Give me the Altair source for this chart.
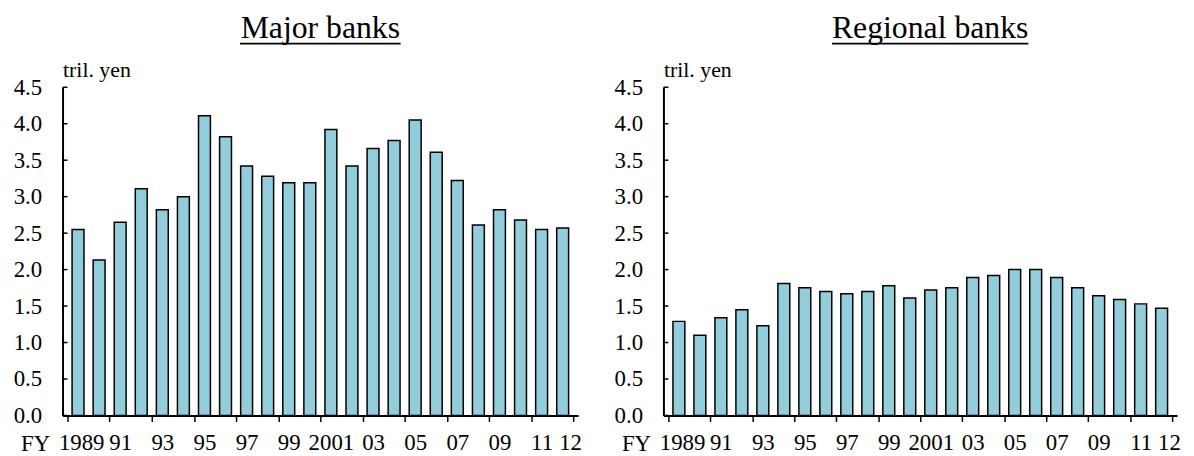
import altair as alt
import pandas as pd

FONT = "Liberation Serif"
BAR_FILL = "#92CDDC"

years = [1989, 1990, 1991, 1992, 1993, 1994, 1995, 1996, 1997, 1998, 1999, 2000,
         2001, 2002, 2003, 2004, 2005, 2006, 2007, 2008, 2009, 2010, 2011, 2012]
year_labels = ["1989", "", "91", "", "93", "", "95", "", "97", "", "99", "",
               "2001", "", "03", "", "05", "", "07", "", "09", "", "11", "12"]

major = [2.55, 2.13, 2.65, 3.11, 2.82, 3.00, 4.11, 3.82, 3.42, 3.28, 3.19, 3.19,
         3.92, 3.42, 3.66, 3.77, 4.05, 3.61, 3.22, 2.61, 2.82, 2.68, 2.55, 2.57]
regional = [1.29, 1.10, 1.34, 1.45, 1.23, 1.81, 1.75, 1.70, 1.67, 1.70, 1.78, 1.61,
            1.72, 1.75, 1.89, 1.92, 2.00, 2.00, 1.89, 1.75, 1.64, 1.59, 1.53, 1.47]

y_ticks = [0.0, 0.5, 1.0, 1.5, 2.0, 2.5, 3.0, 3.5, 4.0, 4.5]

# bars sit at the middle of each year slot, ticks every two years on slot edges
positions = [i + 0.5 for i in range(len(years))]
tick_edges = list(range(0, len(years) + 1, 2))
# first and last labels sit a little right of their bar, as in the original
nudge = {"1989": 0.15, "12": 0.35}
label_spots = [p + nudge.get(lab, 0) for p, lab in zip(positions, year_labels) if lab]
labels_js = "[" + ",".join("'%s'" % lab for lab in year_labels) + "]"

y_axis = alt.Axis(
    values=y_ticks, format=".1f", tickSize=0, labelPadding=21,
    labelOverlap=False, labelFlush=False,
    domainColor="black", domainWidth=2, grid=False,
    labelFont=FONT, labelFontSize=23, labelColor="black",
    title="tril. yen", titleAngle=0, titleAlign="left",
    titleBaseline="alphabetic", titleX=0, titleY=-11,
    titleFont=FONT, titleFontSize=22, titleFontWeight="normal",
    titleColor="black",
)
y_scale = alt.Scale(domain=[0, 4.5], nice=False)


def panel(values, title, title_dx, width):
    df = pd.DataFrame({"year": years, "pos": positions, "value": values})

    x = alt.X(
        "pos:Q",
        scale=alt.Scale(domain=[0, len(years)], nice=False, zero=False),
        axis=alt.Axis(
            values=sorted(tick_edges + label_spots),
            labelExpr="datum.value % 1 == 0 ? '' : " + labels_js + "[floor(datum.value)]",
            tickOpacity={"condition": {"test": "datum.value % 1 == 0", "value": 1}, "value": 0},
            tickSize=6, tickWidth=1.5, tickColor="black",
            domainColor="black", domainWidth=2,
            labelOverlap=False, labelFlush=False, labelPadding=10,
            labelFont=FONT, labelFontSize=23, labelColor="black",
            grid=False,
            title="FY", titleX=-13, titleY=35, titleAlign="right", titleAngle=0,
            titleBaseline="alphabetic", titleFont=FONT, titleFontSize=23,
            titleFontWeight="normal", titleColor="black",
        ),
    )

    bars = alt.Chart(df).mark_bar(
        size=12, fill=BAR_FILL, stroke="black", strokeWidth=1.5
    ).encode(x=x, y=alt.Y("value:Q", scale=y_scale, axis=y_axis))

    # y ticks point inwards
    inner_ticks = alt.Chart(pd.DataFrame({"value": y_ticks})).mark_rule(
        color="black", strokeWidth=1.5
    ).encode(y=alt.Y("value:Q", scale=y_scale, axis=y_axis),
             x=alt.value(0), x2=alt.value(5))

    return alt.layer(bars, inner_ticks).properties(
        width=width, height=331,
        title=alt.TitleParams(
            title, font=FONT, fontSize=32, fontWeight="normal", color="black",
            anchor="middle", frame="group", dx=title_dx,
        ),
    )


def underline(center, half):
    return alt.Chart(pd.DataFrame({"u": [0]})).mark_rule(
        color="black", strokeWidth=2
    ).encode(x=alt.value(center - half), x2=alt.value(center + half), y=alt.value(-44))


left = alt.layer(panel(major, "Major banks", 0, 520), underline(260, 81))
right = alt.layer(panel(regional, "Regional banks", 10, 518), underline(269, 99))

chart = alt.hconcat(left, right, spacing=32).properties(
    padding={"left": 5, "top": 2, "right": 5, "bottom": 5}
).configure_view(stroke=None).configure_title(baseline="alphabetic", offset=-2)

chart.save("out.html", embed_options={"renderer": "svg", "actions": False})
